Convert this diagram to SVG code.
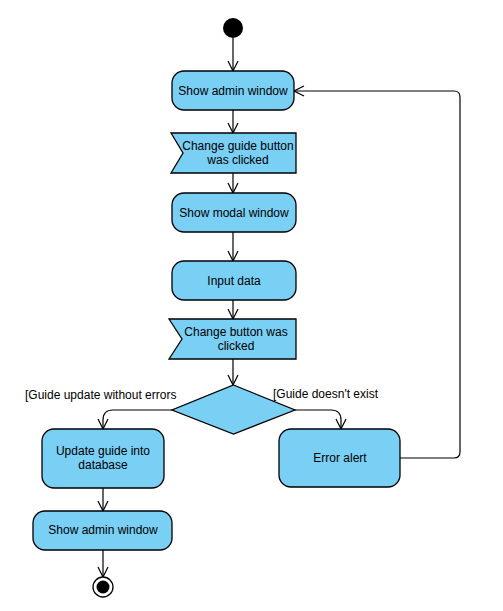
<svg xmlns="http://www.w3.org/2000/svg" width="503" height="611" viewBox="0 0 503 611">
<defs>
<style>
.n{fill:#7ACFF5;stroke:#000;stroke-width:1.3}
.t{font-family:"Liberation Sans",Arial,sans-serif;font-size:12px;fill:#000;text-anchor:middle}
.l{font-family:"Liberation Sans",Arial,sans-serif;font-size:12px;fill:#000}
.e{fill:none;stroke:#000;stroke-width:1.2}
</style>
<marker id="a" markerWidth="12" markerHeight="12" viewBox="0 0 12 12" refX="11" refY="6" orient="auto" markerUnits="userSpaceOnUse">
<path d="M1,1 L11,6 L1,11" fill="none" stroke="#000" stroke-width="1.2"/>
</marker>
</defs>
<rect width="503" height="611" fill="#fff"/>
<g id="edges">
<path class="e" d="M233,38 V71" marker-end="url(#a)"/>
<path class="e" d="M233,110 V133" marker-end="url(#a)"/>
<path class="e" d="M233,173 V193" marker-end="url(#a)"/>
<path class="e" d="M233,232 V261" marker-end="url(#a)"/>
<path class="e" d="M233,300 V319" marker-end="url(#a)"/>
<path class="e" d="M233,359 V385" marker-end="url(#a)"/>
<path class="e" d="M172,410 H113 Q103,410 103,420 V429" marker-end="url(#a)"/>
<path class="e" d="M295,410 H331 Q341,410 341,420 V429" marker-end="url(#a)"/>
<path class="e" d="M400,458 H454 Q460,458 460,452 V97 Q460,91 454,91 H294" marker-end="url(#a)"/>
<path class="e" d="M103,488 V511" marker-end="url(#a)"/>
<path class="e" d="M103,550 V577" marker-end="url(#a)"/>
</g>
<g id="start"><circle cx="233" cy="28" r="10" fill="#000"/></g>
<g id="show-admin-1">
<rect class="n" x="172" y="71" width="122" height="39" rx="12"/>
<text class="t" x="233" y="95">Show admin window</text>
</g>
<g id="change-guide">
<path class="n" d="M171,133 H296 V173 H171 L183,153 Z"/>
<text class="t" x="238" y="150">Change guide button</text>
<text class="t" x="238" y="164">was clicked</text>
</g>
<g id="show-modal">
<rect class="n" x="172" y="193" width="124" height="39" rx="12"/>
<text class="t" x="234" y="217">Show modal window</text>
</g>
<g id="input-data">
<rect class="n" x="172" y="261" width="124" height="39" rx="12"/>
<text class="t" x="234" y="285">Input data</text>
</g>
<g id="change-button">
<path class="n" d="M169,319 H296 V359 H169 L182,339 Z"/>
<text class="t" x="236" y="336">Change button was</text>
<text class="t" x="236" y="350">clicked</text>
</g>
<g id="decision">
<path class="n" d="M233.5,385 L295,410 L233.5,434 L172,410 Z"/>
</g>
<g id="labels">
<text class="l" x="25" y="399">[Guide update without errors</text>
<text class="l" x="273" y="398">[Guide doesn't exist</text>
</g>
<g id="update-guide">
<rect class="n" x="42" y="429" width="122" height="59" rx="12"/>
<text class="t" x="103" y="455">Update guide into</text>
<text class="t" x="103" y="469">database</text>
</g>
<g id="error-alert">
<rect class="n" x="279" y="429" width="121" height="58" rx="12"/>
<text class="t" x="340" y="462">Error alert</text>
</g>
<g id="show-admin-2">
<rect class="n" x="33" y="511" width="139" height="39" rx="12"/>
<text class="t" x="103" y="534">Show admin window</text>
</g>
<g id="end">
<circle cx="103" cy="587" r="10" fill="#fff" stroke="#000" stroke-width="1.3"/>
<circle cx="103" cy="587" r="6.5" fill="#000"/>
</g>
</svg>
